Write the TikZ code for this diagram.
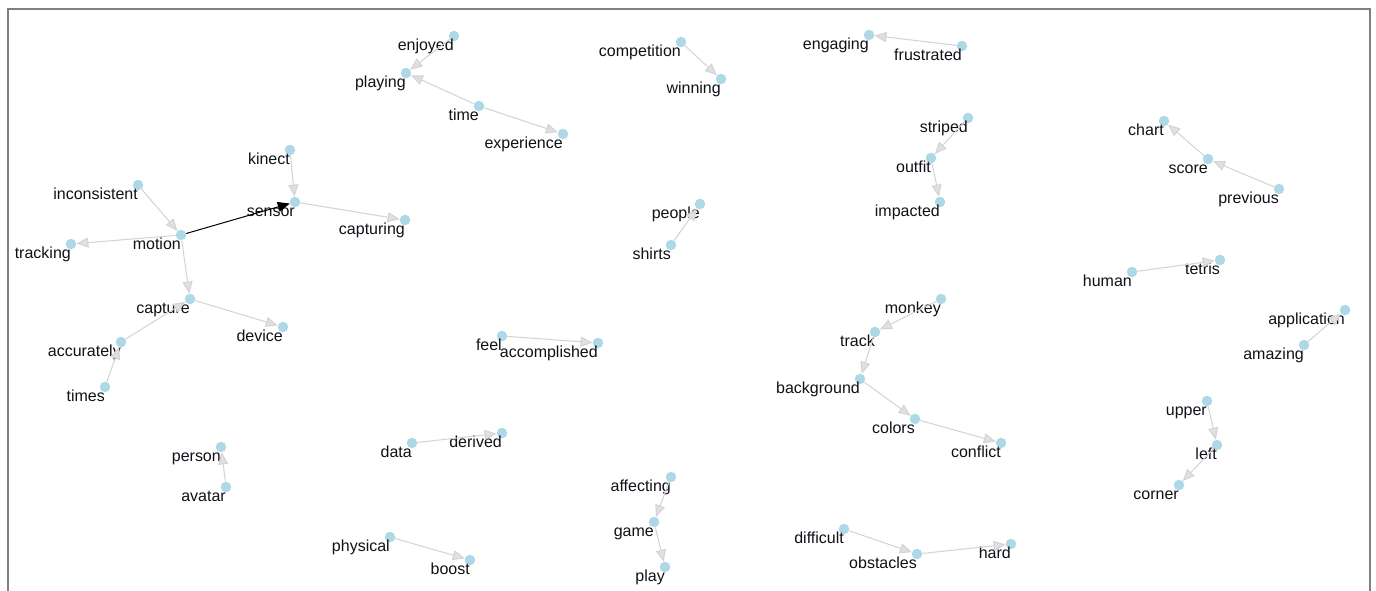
\documentclass[tikz,border=0pt]{standalone}
\usepackage{fontspec}
\setmainfont{Liberation Sans}
\usetikzlibrary{arrows.meta}
\definecolor{dotblue}{HTML}{ADD8E6}
\definecolor{edgegray}{HTML}{D3D3D3}
\definecolor{tipfill}{HTML}{E0E0E0}
\definecolor{framegray}{HTML}{808080}
\definecolor{txt}{HTML}{101018}
\tikzset{
  dot/.style={circle,fill=dotblue,draw=none,minimum size=10.5pt,inner sep=0pt},
  lbl/.style={anchor=base east,inner sep=0pt,text=txt,font=\fontsize{16}{19}\selectfont},
  edge/.style={draw=edgegray,line width=1pt,-{Triangle[length=12pt,width=10pt,fill=tipfill]}},
  hot/.style={draw=black,line width=1pt,-{Triangle[length=12pt,width=10pt,fill=black]}},
  frame/.style={draw=framegray,line width=2pt}
}
\newcommand{\wn}[4]{\node[dot] (#1) at (#2,#3) {};\node[lbl] (#1-l) at ([yshift=-14.5pt]#1.center) {#4};}
\begin{document}
\begin{tikzpicture}[x=1pt,y=-1pt]
\useasboundingbox (0,0) rectangle (1376,590);
\draw[frame] (8,600) -- (8,9) -- (1370,9) -- (1370,600);
\wn{enjoyed}{454}{36}{enjoyed}
\wn{playing}{406}{73}{playing}
\wn{time}{479}{106}{time}
\wn{experience}{563}{134}{experience}
\wn{competition}{681}{42}{competition}
\wn{winning}{721}{79}{winning}
\wn{engaging}{869}{35}{engaging}
\wn{frustrated}{962}{46}{frustrated}
\wn{striped}{968}{118}{striped}
\wn{outfit}{931}{158}{outfit}
\wn{impacted}{940}{202}{impacted}
\wn{chart}{1164}{121}{chart}
\wn{score}{1208}{159}{score}
\wn{previous}{1279}{189}{previous}
\wn{kinect}{290}{150}{kinect}
\wn{inconsistent}{138}{185}{inconsistent}
\wn{sensor}{295}{202}{sensor}
\wn{capturing}{405}{220}{capturing}
\wn{motion}{181}{235}{motion}
\wn{tracking}{71}{244}{tracking}
\wn{capture}{190}{299}{capture}
\wn{device}{283}{327}{device}
\wn{accurately}{121}{342}{accurately}
\wn{times}{105}{387}{times}
\wn{people}{700}{204}{people}
\wn{shirts}{671}{245}{shirts}
\wn{human}{1132}{272}{human}
\wn{tetris}{1220}{260}{tetris}
\wn{monkey}{941}{299}{monkey}
\wn{track}{875}{332}{track}
\wn{background}{860}{379}{background}
\wn{colors}{915}{419}{colors}
\wn{conflict}{1001}{443}{conflict}
\wn{application}{1345}{310}{application}
\wn{amazing}{1304}{345}{amazing}
\wn{feel}{502}{336}{feel}
\wn{accomplished}{598}{343}{accomplished}
\wn{upper}{1207}{401}{upper}
\wn{left}{1217}{445}{left}
\wn{corner}{1179}{485}{corner}
\wn{data}{412}{443}{data}
\wn{derived}{502}{433}{derived}
\wn{person}{221}{447}{person}
\wn{avatar}{226}{487}{avatar}
\wn{affecting}{671}{477}{affecting}
\wn{game}{654}{522}{game}
\wn{play}{665}{567}{play}
\wn{physical}{390}{537}{physical}
\wn{boost}{470}{560}{boost}
\wn{difficult}{844}{529}{difficult}
\wn{obstacles}{917}{554}{obstacles}
\wn{hard}{1011}{544}{hard}
% connectors
\draw[edge] (enjoyed) -- (playing);
\draw[edge] (time) -- (playing);
\draw[edge] (time) -- (experience);
\draw[edge] (competition) -- (winning);
\draw[edge] (frustrated) -- (engaging);
\draw[edge] (striped) -- (outfit);
\draw[edge] (outfit) -- (impacted);
\draw[edge] (score) -- (chart);
\draw[edge] (previous) -- (score);
\draw[edge] (kinect) -- (sensor);
\draw[edge] (sensor) -- (capturing);
\draw[edge] (inconsistent) -- (motion);
\draw[edge] (motion) -- (tracking);
\draw[edge] (motion) -- (capture);
\draw[edge] (capture) -- (device);
\draw[edge] (times) -- (accurately);
\draw[edge] (accurately) -- (capture);
\draw[edge] (shirts) -- (people);
\draw[edge] (human) -- (tetris);
\draw[edge] (monkey) -- (track);
\draw[edge] (track) -- (background);
\draw[edge] (background) -- (colors);
\draw[edge] (colors) -- (conflict);
\draw[edge] (amazing) -- (application);
\draw[edge] (feel) -- (accomplished);
\draw[edge] (upper) -- (left);
\draw[edge] (left) -- (corner);
\draw[edge] (data) -- (derived);
\draw[edge] (avatar) -- (person);
\draw[edge] (affecting) -- (game);
\draw[edge] (game) -- (play);
\draw[edge] (physical) -- (boost);
\draw[edge] (difficult) -- (obstacles);
\draw[edge] (obstacles) -- (hard);
\draw[hot] (motion) -- (sensor);
\end{tikzpicture}
\end{document}
